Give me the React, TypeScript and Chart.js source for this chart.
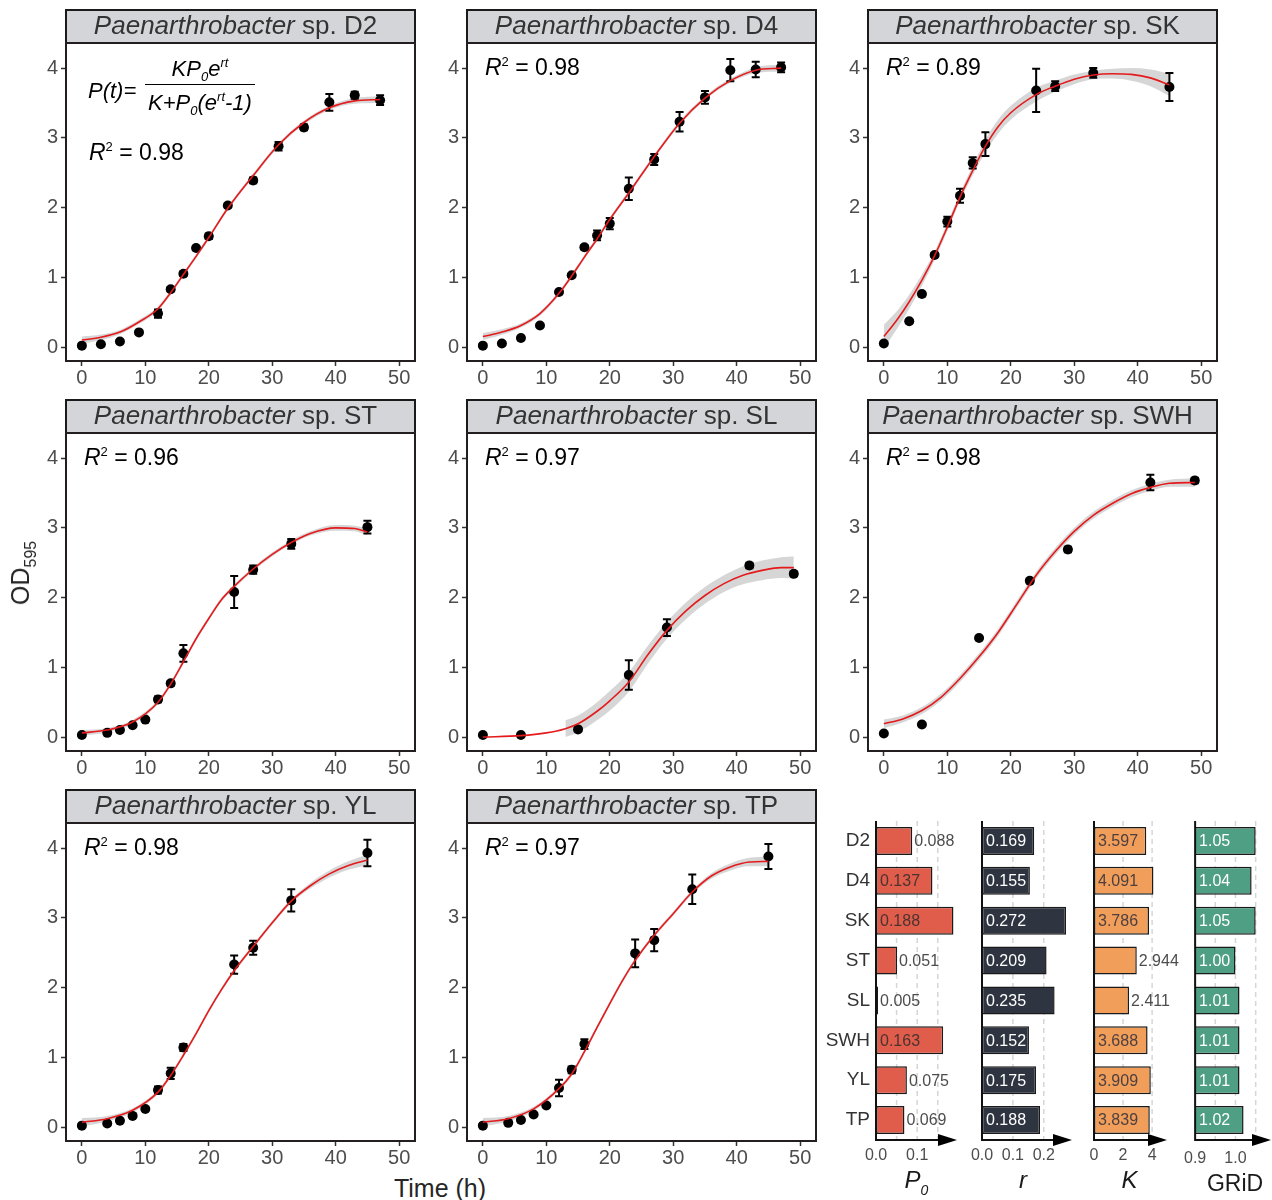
import React, { useEffect, useRef } from 'react';
import { Chart, registerables } from 'chart.js';

Chart.register(...registerables);

const FONT = '"Liberation Sans", Arial, Helvetica, sans-serif';
const fnt = (size: number, italic = false) => `${italic ? 'italic ' : ''}${size}px ${FONT}`;

// ---------- growth-curve axes ----------
const xTickValues = [0, 10, 20, 30, 40, 50];
const yTickValues = [0, 1, 2, 3, 4];

// ---------- D2 ----------
const d2Time = [0, 3, 6, 9, 12, 14, 16, 18, 20, 23, 27, 31, 35, 39, 43, 47];
const d2OD = [0.02, 0.04, 0.08, 0.21, 0.48, 0.83, 1.05, 1.42, 1.59, 2.03, 2.39, 2.88, 3.15, 3.51, 3.61, 3.54];
const d2SD = [0.01, 0.01, 0.01, 0.02, 0.06, 0.03, 0.03, 0.02, 0.04, 0.03, 0.04, 0.06, 0.04, 0.12, 0.05, 0.07];
const d2FitT = [0, 3, 6, 9, 12, 14, 16, 18, 20, 23, 27, 31, 35, 39, 43, 47];
const d2FitY = [0.1, 0.14, 0.215, 0.36, 0.55, 0.78, 1.04, 1.3, 1.57, 1.99, 2.46, 2.9, 3.22, 3.43, 3.53, 3.55];
const d2FitSe = [0.05, 0.04, 0.03, 0.03, 0.03, 0.03, 0.03, 0.03, 0.03, 0.03, 0.03, 0.03, 0.03, 0.03, 0.04, 0.05];

// ---------- D4 ----------
const d4Time = [0, 3, 6, 9, 12, 14, 16, 18, 20, 23, 27, 31, 35, 39, 43, 47];
const d4OD = [0.02, 0.05, 0.13, 0.31, 0.79, 1.03, 1.43, 1.6, 1.77, 2.27, 2.69, 3.23, 3.58, 3.97, 3.98, 4.01];
const d4SD = [0.01, 0.01, 0.01, 0.02, 0.02, 0.02, 0.03, 0.07, 0.08, 0.16, 0.08, 0.14, 0.09, 0.16, 0.11, 0.07];
const d4FitT = [0, 3, 6, 9, 12, 14, 16, 18, 20, 23, 27, 31, 35, 39, 43, 47];
const d4FitY = [0.15, 0.215, 0.31, 0.48, 0.77, 1.02, 1.29, 1.55, 1.83, 2.21, 2.73, 3.21, 3.57, 3.82, 3.97, 4.0];
const d4FitSe = [0.05, 0.04, 0.03, 0.03, 0.03, 0.03, 0.03, 0.03, 0.03, 0.03, 0.03, 0.03, 0.03, 0.03, 0.04, 0.05];

// ---------- SK ----------
const skTime = [0, 4, 6, 8, 10, 12, 14, 16, 24, 27, 33, 45];
const skOD = [0.05, 0.37, 0.76, 1.32, 1.8, 2.17, 2.64, 2.91, 3.68, 3.74, 3.93, 3.73];
const skSD = [0.01, 0.02, 0.03, 0.03, 0.07, 0.1, 0.08, 0.17, 0.31, 0.07, 0.07, 0.2];
const skFitT = [0, 2, 4, 6, 8, 10, 12, 14, 16, 18, 20, 24, 27, 30, 33, 36, 39, 42, 45];
const skFitY = [0.15, 0.38, 0.65, 0.96, 1.31, 1.72, 2.15, 2.53, 2.88, 3.16, 3.36, 3.62, 3.74, 3.84, 3.9, 3.92, 3.91, 3.86, 3.76];
const skFitSe = [0.17, 0.13, 0.1, 0.08, 0.06, 0.06, 0.06, 0.07, 0.09, 0.1, 0.1, 0.1, 0.08, 0.07, 0.06, 0.07, 0.09, 0.12, 0.16];

// ---------- ST ----------
const stTime = [0, 4, 6, 8, 10, 12, 14, 16, 24, 27, 33, 45];
const stOD = [0.03, 0.06, 0.1, 0.17, 0.25, 0.54, 0.77, 1.2, 2.08, 2.4, 2.77, 3.01];
const stSD = [0.01, 0.01, 0.01, 0.01, 0.02, 0.04, 0.03, 0.12, 0.23, 0.06, 0.07, 0.09];
const stFitT = [0, 4, 8, 12, 14, 16, 18, 20, 22, 24, 27, 30, 33, 36, 40, 43, 45];
const stFitY = [0.06, 0.1, 0.215, 0.5, 0.76, 1.08, 1.41, 1.7, 1.97, 2.16, 2.41, 2.62, 2.79, 2.92, 3.0, 2.99, 2.94];
const stFitSe = [0.04, 0.03, 0.03, 0.03, 0.03, 0.03, 0.03, 0.03, 0.03, 0.03, 0.03, 0.03, 0.03, 0.03, 0.04, 0.04, 0.05];

// ---------- SL ----------
const slTime = [0, 6, 15, 23, 29, 42, 49];
const slOD = [0.03, 0.03, 0.11, 0.89, 1.57, 2.46, 2.34];
const slSD = [0.01, 0.01, 0.02, 0.21, 0.12, 0.04, 0.03];
const slFitT = [0, 6, 10, 13, 15, 18, 20, 23, 26, 29, 32, 35, 38, 41, 44, 47, 49];
const slFitY = [0.0, 0.02, 0.06, 0.12, 0.19, 0.37, 0.52, 0.79, 1.18, 1.53, 1.81, 2.03, 2.2, 2.32, 2.39, 2.43, 2.43];
const slFitSe = [null, null, null, 0.12, 0.12, 0.13, 0.14, 0.14, 0.13, 0.12, 0.12, 0.12, 0.12, 0.13, 0.14, 0.15, 0.16];

// ---------- SWH ----------
const swhTime = [0, 6, 15, 23, 29, 42, 49];
const swhOD = [0.05, 0.18, 1.42, 2.24, 2.69, 3.65, 3.68];
const swhSD = [0.01, 0.01, 0.01, 0.02, 0.04, 0.11, 0.04];
const swhFitT = [0, 3, 6, 9, 12, 15, 18, 21, 24, 27, 30, 33, 36, 39, 42, 45, 49];
const swhFitY = [0.19, 0.26, 0.38, 0.57, 0.84, 1.15, 1.5, 1.91, 2.32, 2.66, 2.95, 3.18, 3.35, 3.49, 3.58, 3.64, 3.65];
const swhFitSe = [0.06, 0.05, 0.05, 0.05, 0.05, 0.05, 0.05, 0.05, 0.05, 0.05, 0.05, 0.05, 0.05, 0.05, 0.05, 0.05, 0.06];

// ---------- YL ----------
const ylTime = [0, 4, 6, 8, 10, 12, 14, 16, 24, 27, 33, 45];
const ylOD = [0.02, 0.05, 0.09, 0.16, 0.26, 0.53, 0.77, 1.14, 2.33, 2.57, 3.25, 3.93];
const ylSD = [0.01, 0.01, 0.01, 0.01, 0.02, 0.05, 0.08, 0.05, 0.13, 0.1, 0.16, 0.19];
const ylFitT = [0, 4, 8, 12, 14, 16, 18, 20, 22, 24, 27, 30, 33, 36, 39, 42, 45];
const ylFitY = [0.07, 0.12, 0.24, 0.5, 0.74, 1.03, 1.34, 1.67, 1.97, 2.24, 2.59, 2.93, 3.24, 3.46, 3.63, 3.75, 3.83];
const ylFitSe = [0.06, 0.04, 0.03, 0.03, 0.03, 0.03, 0.03, 0.03, 0.03, 0.03, 0.03, 0.03, 0.03, 0.04, 0.05, 0.06, 0.08];

// ---------- TP ----------
const tpTime = [0, 4, 6, 8, 10, 12, 14, 16, 24, 27, 33, 45];
const tpOD = [0.02, 0.06, 0.1, 0.18, 0.31, 0.56, 0.82, 1.19, 2.49, 2.68, 3.41, 3.88];
const tpSD = [0.01, 0.01, 0.01, 0.01, 0.02, 0.12, 0.05, 0.07, 0.2, 0.16, 0.21, 0.18];
const tpFitT = [0, 4, 8, 12, 14, 16, 18, 20, 22, 24, 27, 30, 33, 36, 39, 42, 45];
const tpFitY = [0.07, 0.12, 0.26, 0.55, 0.76, 1.08, 1.43, 1.77, 2.1, 2.39, 2.75, 3.06, 3.37, 3.6, 3.73, 3.8, 3.81];
const tpFitSe = [0.06, 0.04, 0.03, 0.03, 0.03, 0.03, 0.03, 0.03, 0.03, 0.03, 0.03, 0.03, 0.03, 0.04, 0.05, 0.06, 0.07];

// ---------- parameter bars ----------
const barStrains = ['D2', 'D4', 'SK', 'ST', 'SL', 'SWH', 'YL', 'TP'];
const p0Values = [0.088, 0.137, 0.188, 0.051, 0.005, 0.163, 0.075, 0.069];
const rValues = [0.169, 0.155, 0.272, 0.209, 0.235, 0.152, 0.175, 0.188];
const kValues = [3.597, 4.091, 3.786, 2.944, 2.411, 3.688, 3.909, 3.839];
const gridValues = [1.05, 1.04, 1.05, 1.0, 1.01, 1.01, 1.01, 1.02];
const p0Ticks = [0, 0.1];
const rTicks = [0, 0.1, 0.2];
const kTicks = [0, 2, 4];
const gridTicks = [0.9, 1.0];

type Seg = { t: string; s: number; i?: boolean; dy?: number };

function drawSegs(ctx: CanvasRenderingContext2D, segs: Seg[], x: number, y: number, align: 'left' | 'center', color: string) {
  ctx.fillStyle = color;
  ctx.textBaseline = 'alphabetic';
  ctx.textAlign = 'left';
  const widths = segs.map((sg) => {
    ctx.font = fnt(sg.s, sg.i);
    return ctx.measureText(sg.t).width;
  });
  const total = widths.reduce((a, b) => a + b, 0);
  let cx = align === 'center' ? x - total / 2 : x;
  segs.forEach((sg, k) => {
    ctx.font = fnt(sg.s, sg.i);
    ctx.fillText(sg.t, cx, y + (sg.dy || 0));
    cx += widths[k];
  });
}

type Panel = {
  code: string; r2: string; t: number[]; od: number[]; sd: number[];
  fitT: number[]; fitY: number[]; fitSe: (number | null)[]; col: number; row: number; formula?: boolean;
};

const panels: Panel[] = [
  { code: 'D2', r2: '0.98', t: d2Time, od: d2OD, sd: d2SD, fitT: d2FitT, fitY: d2FitY, fitSe: d2FitSe, col: 0, row: 0, formula: true },
  { code: 'D4', r2: '0.98', t: d4Time, od: d4OD, sd: d4SD, fitT: d4FitT, fitY: d4FitY, fitSe: d4FitSe, col: 1, row: 0 },
  { code: 'SK', r2: '0.89', t: skTime, od: skOD, sd: skSD, fitT: skFitT, fitY: skFitY, fitSe: skFitSe, col: 2, row: 0 },
  { code: 'ST', r2: '0.96', t: stTime, od: stOD, sd: stSD, fitT: stFitT, fitY: stFitY, fitSe: stFitSe, col: 0, row: 1 },
  { code: 'SL', r2: '0.97', t: slTime, od: slOD, sd: slSD, fitT: slFitT, fitY: slFitY, fitSe: slFitSe, col: 1, row: 1 },
  { code: 'SWH', r2: '0.98', t: swhTime, od: swhOD, sd: swhSD, fitT: swhFitT, fitY: swhFitY, fitSe: swhFitSe, col: 2, row: 1 },
  { code: 'YL', r2: '0.98', t: ylTime, od: ylOD, sd: ylSD, fitT: ylFitT, fitY: ylFitY, fitSe: ylFitSe, col: 0, row: 2 },
  { code: 'TP', r2: '0.97', t: tpTime, od: tpOD, sd: tpSD, fitT: tpFitT, fitY: tpFitY, fitSe: tpFitSe, col: 1, row: 2 },
];

const colLeft = [66, 467, 868];
const rowTop = [10, 400, 790];
const PANEL_W = 350;
const STRIP_H = 33;
const PLOT_H = 318;
const Y_AXIS_W = 50;
const X_AXIS_H = 32;

function growthPlugin(p: Panel) {
  return {
    id: 'growthDecor',
    beforeDatasetDraw(chart: any, args: any) {
      if (args.index !== 2) return;
      const ctx = chart.ctx as CanvasRenderingContext2D;
      const xs = chart.scales.x;
      const ys = chart.scales.y;
      ctx.save();
      ctx.strokeStyle = '#000';
      ctx.lineWidth = 2;
      p.t.forEach((t, i) => {
        const px = xs.getPixelForValue(t);
        const y1 = ys.getPixelForValue(p.od[i] - p.sd[i]);
        const y2 = ys.getPixelForValue(p.od[i] + p.sd[i]);
        ctx.beginPath();
        ctx.moveTo(px, y1); ctx.lineTo(px, y2);
        ctx.moveTo(px - 4, y1); ctx.lineTo(px + 4, y1);
        ctx.moveTo(px - 4, y2); ctx.lineTo(px + 4, y2);
        ctx.stroke();
      });
      ctx.restore();
    },
    afterDraw(chart: any) {
      const ctx = chart.ctx as CanvasRenderingContext2D;
      const { left, top, right, bottom } = chart.chartArea;
      ctx.save();
      // strip
      ctx.fillStyle = '#d3d5d9';
      ctx.fillRect(left, top - STRIP_H, right - left, STRIP_H);
      ctx.lineWidth = 2;
      ctx.strokeStyle = '#1a1a1a';
      ctx.strokeRect(left, top - STRIP_H, right - left, STRIP_H);
      // panel border
      ctx.strokeStyle = '#231f20';
      ctx.strokeRect(left, top, right - left, bottom - top);
      // strip text
      drawSegs(ctx, [
        { t: 'Paenarthrobacter', s: 26, i: true },
        { t: ' sp. ' + p.code, s: 26 },
      ], (left + right) / 2 - 5, top - STRIP_H + 24, 'center', '#333');
      // R2
      const rx = p.formula ? left + 23 : left + 18;
      const ry = p.formula ? top + 117 : top + 32;
      drawSegs(ctx, [
        { t: 'R', s: 23, i: true },
        { t: '2', s: 13, dy: -9 },
        { t: ' = ' + p.r2, s: 23 },
      ], rx, ry, 'left', '#000');
      if (p.formula) {
        drawSegs(ctx, [{ t: 'P(t)=', s: 22, i: true }], left + 22, top + 55, 'left', '#000');
        const cx = left + 134;
        drawSegs(ctx, [
          { t: 'KP', s: 22, i: true },
          { t: '0', s: 13, i: true, dy: 5 },
          { t: 'e', s: 22, i: true },
          { t: 'rt', s: 13, i: true, dy: -9 },
        ], cx, top + 33, 'center', '#000');
        drawSegs(ctx, [
          { t: 'K+P', s: 22, i: true },
          { t: '0', s: 13, i: true, dy: 5 },
          { t: '(e', s: 22, i: true },
          { t: 'rt', s: 13, i: true, dy: -9 },
          { t: '-1)', s: 22, i: true },
        ], cx, top + 67, 'center', '#000');
        ctx.strokeStyle = '#000';
        ctx.lineWidth = 1.2;
        ctx.beginPath();
        ctx.moveTo(left + 79, top + 41.5);
        ctx.lineTo(left + 189, top + 41.5);
        ctx.stroke();
      }
      ctx.restore();
    },
  };
}

function growthConfig(p: Panel): any {
  const pts = p.t.map((t, i) => ({ x: t, y: p.od[i] }));
  const fit = p.fitT.map((t, i) => ({ x: t, y: p.fitY[i] }));
  const hi: { x: number; y: number }[] = [];
  const lo: { x: number; y: number }[] = [];
  p.fitT.forEach((t, i) => {
    const se = p.fitSe[i];
    if (se != null) {
      hi.push({ x: t, y: p.fitY[i] + se });
      lo.push({ x: t, y: p.fitY[i] - se });
    }
  });
  const tickFont = { size: 20, family: FONT };
  return {
    type: 'scatter',
    data: {
      datasets: [
        { type: 'line', data: hi, borderWidth: 0, borderColor: 'rgba(0,0,0,0)', pointRadius: 0, fill: false, cubicInterpolationMode: 'monotone', order: 3 },
        { type: 'line', data: lo, borderWidth: 0, borderColor: 'rgba(0,0,0,0)', pointRadius: 0, fill: '-1', backgroundColor: 'rgba(153,153,153,0.4)', cubicInterpolationMode: 'monotone', order: 3 },
        { type: 'scatter', data: pts, pointRadius: 5, pointBorderWidth: 0, backgroundColor: '#000', pointBackgroundColor: '#000', borderColor: '#000', order: 2 },
        { type: 'line', data: fit, borderColor: '#e41a1c', borderWidth: 1.6, pointRadius: 0, fill: false, cubicInterpolationMode: 'monotone', order: 1 },
      ],
    },
    options: {
      animation: false,
      responsive: false,
      events: [],
      layout: { padding: { top: STRIP_H + 2, right: 4, left: 0, bottom: 0 } },
      plugins: { legend: { display: false }, tooltip: { enabled: false } },
      scales: {
        x: {
          type: 'linear', min: -2.5, max: 52.5,
          afterBuildTicks: (s: any) => { s.ticks = xTickValues.map((v) => ({ value: v })); },
          ticks: { font: tickFont, color: '#4d4d4d', padding: 0, maxRotation: 0, autoSkip: false, callback: (v: any) => String(v) },
          grid: { drawOnChartArea: false, drawTicks: true, tickLength: 5, tickColor: '#333', tickWidth: 1.5 },
          border: { display: false },
          afterFit: (s: any) => { s.height = X_AXIS_H; },
        },
        y: {
          type: 'linear', min: -0.2, max: 4.36,
          afterBuildTicks: (s: any) => { s.ticks = yTickValues.map((v) => ({ value: v })); },
          ticks: { font: tickFont, color: '#4d4d4d', padding: 3, autoSkip: false, callback: (v: any) => String(v) },
          grid: { drawOnChartArea: false, drawTicks: true, tickLength: 5, tickColor: '#333', tickWidth: 1.5 },
          border: { display: false },
          afterFit: (s: any) => { s.width = Y_AXIS_W; },
        },
      },
    },
    plugins: [growthPlugin(p)],
  };
}

type BarSpec = {
  key: string; values: number[]; color: string; min: number; max: number; ticks: number[];
  tickFmt: (v: number) => string; gridLines: number[]; left: number; width: number; yWidth: number; padRight: number;
  showCats: boolean; insideMin: number; insideColor: string; digits: number; title: Seg[]; titleDx: number; titleY: number; tickPad: number;
};

const BAR_TOP = 800;
const BAR_H = 400;

const barSpecs: BarSpec[] = [
  {
    key: 'P0', values: p0Values, color: '#e05c4b', min: 0, max: 0.1966, ticks: p0Ticks, tickFmt: (v) => v.toFixed(1),
    gridLines: [0.05, 0.1, 0.15], left: 815, width: 150, yWidth: 61, padRight: 8, showCats: true, insideMin: 0.12,
    insideColor: '#4a3430', digits: 3, title: [{ t: 'P', s: 24, i: true }, { t: '0', s: 14, i: true, dy: 7 }], titleDx: 0, titleY: 388, tickPad: 6,
  },
  {
    key: 'r', values: rValues, color: '#2e3541', min: 0, max: 0.2913, ticks: rTicks, tickFmt: (v) => v.toFixed(1),
    gridLines: [0.1, 0.2], left: 960, width: 120, yWidth: 22, padRight: 8, showCats: false, insideMin: 0,
    insideColor: '#ffffff', digits: 3, title: [{ t: 'r', s: 24, i: true }], titleDx: -4, titleY: 388, tickPad: 6,
  },
  {
    key: 'K', values: kValues, color: '#f09e5a', min: 0, max: 5.024, ticks: kTicks, tickFmt: (v) => String(v),
    gridLines: [2, 4], left: 1075, width: 112, yWidth: 19, padRight: 20, showCats: false, insideMin: 3.2,
    insideColor: '#4d4040', digits: 3, title: [{ t: 'K', s: 24, i: true }], titleDx: -1, titleY: 388, tickPad: 6,
  },
  {
    key: 'GRiD', values: gridValues, color: '#4f9f85', min: 0.9, max: 1.088, ticks: gridTicks, tickFmt: (v) => v.toFixed(1),
    gridLines: [0.95, 1.0, 1.05], left: 1175, width: 97, yWidth: 17, padRight: 1, showCats: false, insideMin: 0,
    insideColor: '#ffffff', digits: 2, title: [{ t: 'GRiD', s: 23 }], titleDx: 2, titleY: 391, tickPad: 9,
  },
];

function barPlugin(b: BarSpec) {
  return {
    id: 'barDecor',
    beforeDatasetsDraw(chart: any) {
      const ctx = chart.ctx as CanvasRenderingContext2D;
      const { top, bottom } = chart.chartArea;
      const xs = chart.scales.x;
      ctx.save();
      ctx.strokeStyle = '#d6d6d6';
      ctx.lineWidth = 1.5;
      ctx.setLineDash([5, 4]);
      b.gridLines.forEach((v) => {
        const px = xs.getPixelForValue(v);
        ctx.beginPath();
        ctx.moveTo(px, top);
        ctx.lineTo(px, bottom);
        ctx.stroke();
      });
      ctx.restore();
    },
    afterDatasetsDraw(chart: any) {
      const ctx = chart.ctx as CanvasRenderingContext2D;
      const { left, top, right, bottom } = chart.chartArea;
      ctx.save();
      const meta = chart.getDatasetMeta(0);
      meta.data.forEach((el: any, i: number) => {
        const v = b.values[i];
        const inside = v >= b.insideMin;
        ctx.font = fnt(16);
        ctx.textBaseline = 'middle';
        ctx.textAlign = 'left';
        ctx.fillStyle = inside ? b.insideColor : '#4d4d4d';
        const x = inside ? left + 4 : el.x + 2;
        ctx.fillText(v.toFixed(b.digits), x, el.y + 1);
      });
      // axes with arrow
      ctx.strokeStyle = '#111';
      ctx.lineWidth = 2;
      ctx.beginPath();
      ctx.moveTo(left, top);
      ctx.lineTo(left, bottom);
      ctx.moveTo(left - 1, bottom);
      ctx.lineTo(right - 16, bottom);
      ctx.stroke();
      ctx.fillStyle = '#000';
      ctx.beginPath();
      ctx.moveTo(right - 19, bottom - 6);
      ctx.lineTo(right, bottom);
      ctx.lineTo(right - 19, bottom + 6);
      ctx.closePath();
      ctx.fill();
      drawSegs(ctx, b.title, (left + right) / 2 + b.titleDx, b.titleY, 'center', '#1a1a1a');
      ctx.restore();
    },
  };
}

function barConfig(b: BarSpec): any {
  return {
    type: 'bar',
    data: {
      labels: barStrains,
      datasets: [{
        data: b.values, backgroundColor: b.color, borderColor: '#1a1a1a', borderWidth: 1.5,
        borderSkipped: false, barPercentage: 0.7, categoryPercentage: 1,
      }],
    },
    options: {
      indexAxis: 'y',
      animation: false,
      responsive: false,
      events: [],
      layout: { padding: { top: 21, right: b.padRight, left: 0, bottom: 0 } },
      plugins: { legend: { display: false }, tooltip: { enabled: false } },
      scales: {
        x: {
          type: 'linear', min: b.min, max: b.max,
          afterBuildTicks: (s: any) => { s.ticks = b.ticks.map((v) => ({ value: v })); },
          ticks: { callback: (v: any) => b.tickFmt(Number(v)), font: { size: 16, family: FONT }, color: '#4d4d4d', padding: b.tickPad, maxRotation: 0, autoSkip: false },
          grid: { display: false, drawTicks: false },
          border: { display: false },
          afterFit: (s: any) => { s.height = 60; },
        },
        y: {
          ticks: { display: b.showCats, font: { size: 19, family: FONT }, color: '#333', padding: 6 },
          grid: { display: false, drawTicks: false },
          border: { display: false },
          afterFit: (s: any) => { s.width = b.yWidth; },
        },
      },
    },
    plugins: [barPlugin(b)],
  };
}

function ChartBox({ left, top, width, height, make }: { left: number; top: number; width: number; height: number; make: () => any }) {
  const ref = useRef<HTMLCanvasElement | null>(null);
  useEffect(() => {
    if (!ref.current) return;
    const chart = new Chart(ref.current, make());
    return () => chart.destroy();
  }, []);
  return (
    <div style={{ position: 'absolute', left, top, width, height }}>
      <canvas ref={ref} width={width} height={height} style={{ width, height, display: 'block' }} />
    </div>
  );
}

export default function App() {
  return (
    <div style={{ position: 'absolute', left: 0, top: 0, width: 1272, height: 1200, background: '#fff', fontFamily: FONT, overflow: 'hidden' }}>
      {panels.map((p) => (
        <ChartBox
          key={p.code}
          left={colLeft[p.col] - Y_AXIS_W}
          top={rowTop[p.row] - 2}
          width={PANEL_W + Y_AXIS_W + 4}
          height={2 + STRIP_H + PLOT_H + X_AXIS_H}
          make={() => growthConfig(p)}
        />
      ))}
      {barSpecs.map((b) => (
        <ChartBox key={b.key} left={b.left} top={BAR_TOP} width={b.width} height={BAR_H} make={() => barConfig(b)} />
      ))}
      <div style={{ position: 'absolute', left: 22, top: 573, transform: 'translate(-50%,-50%) rotate(-90deg)', fontSize: 25, color: '#262626', whiteSpace: 'nowrap', lineHeight: '30px' }}>
        OD<span style={{ fontSize: 16, position: 'relative', top: 7 }}>595</span>
      </div>
      <div style={{ position: 'absolute', left: 440, top: 1188, transform: 'translate(-50%,-50%)', fontSize: 25, color: '#262626', whiteSpace: 'nowrap', lineHeight: '30px' }}>
        Time (h)
      </div>
    </div>
  );
}
